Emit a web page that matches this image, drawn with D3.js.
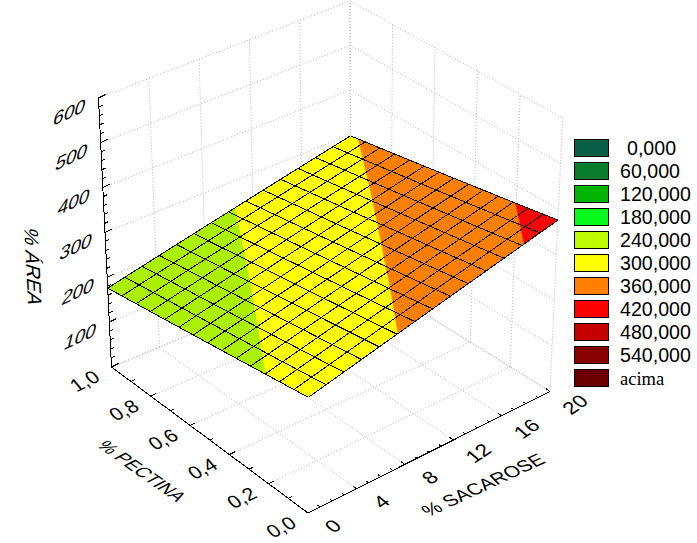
<!DOCTYPE html>
<html>
<head>
<meta charset="utf-8">
<script src="https://cdnjs.cloudflare.com/ajax/libs/d3/7.8.5/d3.min.js"></script>
<style>
  body { margin: 0; background: #fff; }
  text { font-family: "Liberation Sans", Arial, sans-serif; fill: #000; }
</style>
</head>
<body>
<svg id="chart" width="697" height="543"></svg>
<script>
const sacaroseTicks = [0, 4, 8, 12, 16, 20];
const pectinaTicks = [0, 0.2, 0.4, 0.6, 0.8, 1];
const areaTicks = [100, 200, 300, 400, 500, 600];
const sacaroseMinor = [1, 2, 3, 5, 6, 7, 9, 10, 11, 13, 14, 15, 17, 18, 19];
const pectinaMinor = [0.1, 0.3, 0.5, 0.7, 0.9];
const areaMinor = [20, 40, 60, 80, 120, 140, 160, 180, 220, 240, 260, 280, 320, 340, 360, 380, 420, 440, 460, 480, 520, 540, 560, 580];

const legendLabels = ["0,000", "60,000", "120,000", "180,000", "240,000", "300,000", "360,000", "420,000", "480,000", "540,000", "acima"];
const legendColors = ["#0a5f48", "#0a7d2c", "#04b404", "#08fb1c", "#bdfb00", "#ffff00", "#ff8000", "#ff0000", "#c40000", "#880000", "#6c0000"];
// each legend label is the top of its band. 175 not 180: the left corner reads a bit low off the axis
const bandTops = [0, 60, 120, 175, 240, 300, 360, 420, 480, 540];
const surfaceColors = ["#0a5f48", "#0a7d2c", "#04b404", "#08fb1c", "#abf000", "#ffff00", "#ff8000", "#ff0000", "#c40000", "#880000", "#6c0000"];

// % area read at each grid node, one row per pectina step (0,0 up to 1,0), sacarose 0 to 20 along the row
const surfaceRows = [
  [257.0, 265.5, 274.0, 282.5, 291.0, 299.5, 308.0, 316.5, 325.0, 333.5, 342.0, 350.5, 359.0, 367.5, 376.0],
  [251.2, 259.7, 268.2, 276.7, 285.2, 293.8, 302.3, 310.8, 319.3, 327.8, 336.3, 344.8, 353.3, 361.8, 370.3],
  [245.4, 253.9, 262.4, 271.0, 279.5, 288.0, 296.5, 305.0, 313.6, 322.1, 330.6, 339.1, 347.6, 356.2, 364.7],
  [239.6, 248.1, 256.7, 265.2, 273.7, 282.3, 290.8, 299.3, 307.8, 316.4, 324.9, 333.4, 342.0, 350.5, 359.0],
  [233.9, 242.4, 251.0, 259.5, 268.1, 276.6, 285.1, 293.7, 302.2, 310.8, 319.3, 327.9, 336.4, 344.9, 353.5],
  [228.1, 236.7, 245.2, 253.8, 262.3, 270.9, 279.4, 288.0, 296.5, 305.1, 313.6, 322.2, 330.7, 339.3, 347.8],
  [222.3, 230.9, 239.4, 248.0, 256.5, 265.1, 273.7, 282.2, 290.8, 299.3, 307.9, 316.5, 325.0, 333.6, 342.2],
  [216.5, 225.1, 233.6, 242.2, 250.8, 259.4, 267.9, 276.5, 285.1, 293.6, 302.2, 310.8, 319.4, 327.9, 336.5],
  [210.7, 219.3, 227.9, 236.4, 245.0, 253.6, 262.2, 270.8, 279.4, 287.9, 296.5, 305.1, 313.7, 322.3, 330.8],
  [204.9, 213.5, 222.1, 230.7, 239.3, 247.9, 256.5, 265.0, 273.6, 282.2, 290.8, 299.4, 308.0, 316.6, 325.2],
  [199.1, 207.7, 216.3, 224.9, 233.5, 242.1, 250.7, 259.3, 267.9, 276.5, 285.1, 293.7, 302.3, 310.9, 319.5],
  [193.4, 202.0, 210.6, 219.2, 227.8, 236.5, 245.1, 253.7, 262.3, 270.9, 279.5, 288.1, 296.7, 305.4, 314.0],
  [187.6, 196.2, 204.8, 213.5, 222.1, 230.7, 239.3, 248.0, 256.6, 265.2, 273.8, 282.4, 291.1, 299.7, 308.3],
  [181.8, 190.4, 199.1, 207.7, 216.3, 225.0, 233.6, 242.2, 250.9, 259.5, 268.1, 276.8, 285.4, 294.0, 302.7],
  [176.0, 184.6, 193.3, 201.9, 210.6, 219.2, 227.9, 236.5, 245.1, 253.8, 262.4, 271.1, 279.7, 288.4, 297.0]
];

const sacaroseNodes = d3.range(15).map(i => i * 20 / 14);
const pectinaNodes = d3.range(15).map(i => i / 14);

const svg = d3.select("#chart");

const sScale = d3.scaleLinear().domain([0, 20]).range([0, 1]);
const pScale = d3.scaleLinear().domain([0, 1]).range([0, 1]);
const zScale = d3.scaleLinear().domain([0, 600]).range([0, 1]);

// where the corners of the box land on screen, slight perspective so not a parallelepiped
const floorBox = { front: [308, 513], right: [550, 391.5], left: [111.5, 367], back: [351, 268] };
const roofBox = { front: [309, 243], right: [562.7, 118], left: [98.5, 98], back: [350, 1] };

function project(s, p, z) {
  const u = sScale(s), v = pScale(p), w = zScale(z);
  const out = [0, 1].map(k => {
    const lo = (1 - u) * (1 - v) * floorBox.front[k] + u * (1 - v) * floorBox.right[k] + (1 - u) * v * floorBox.left[k] + u * v * floorBox.back[k];
    const hi = (1 - u) * (1 - v) * roofBox.front[k] + u * (1 - v) * roofBox.right[k] + (1 - u) * v * roofBox.left[k] + u * v * roofBox.back[k];
    return lo + (hi - lo) * w;
  });
  return out;
}

const line = d3.line();
function seg(g, a, b) {
  g.append("path").attr("d", line([a, b]));
}

// dotted grid on floor and back walls
const grid = svg.append("g").attr("fill", "none").attr("stroke", "#b4b4b4").attr("stroke-dasharray", "1,2");
sacaroseTicks.forEach(s => {
  seg(grid, project(s, 0, 0), project(s, 1, 0));
  seg(grid, project(s, 1, 0), project(s, 1, 600));
});
pectinaTicks.forEach(p => {
  seg(grid, project(0, p, 0), project(20, p, 0));
  seg(grid, project(20, p, 0), project(20, p, 600));
});
[0].concat(areaTicks).forEach(z => {
  seg(grid, project(0, 1, z), project(20, 1, z));
  seg(grid, project(20, 1, z), project(20, 0, z));
});

// clip one cell to a band of z values
function clipAbove(pts, limit, sign) {
  const out = [];
  pts.forEach((a, i) => {
    const b = pts[(i + 1) % pts.length];
    const da = sign * (a[2] - limit), db = sign * (b[2] - limit);
    if (da >= 0) out.push(a);
    if ((da >= 0) !== (db >= 0)) {
      const t = da / (da - db);
      out.push([a[0] + (b[0] - a[0]) * t, a[1] + (b[1] - a[1]) * t, a[2] + (b[2] - a[2]) * t]);
    }
  });
  return out;
}

const bands = svg.append("g");
for (let j = 0; j < 14; j++) {
  for (let i = 0; i < 14; i++) {
    const cell = [[i, j], [i + 1, j], [i + 1, j + 1], [i, j + 1]]
      .map(n => [sacaroseNodes[n[0]], pectinaNodes[n[1]], surfaceRows[n[1]][n[0]]]);
    bandTops.forEach((hi, b) => {
      if (b === 0) return;
      let poly = clipAbove(cell, bandTops[b - 1], 1);
      if (poly.length) poly = clipAbove(poly, hi, -1);
      if (poly.length < 3) return;
      const col = surfaceColors[b];
      bands.append("path")
        .attr("d", line(poly.map(q => project(q[0], q[1], q[2]))) + "Z")
        .attr("fill", col).attr("stroke", col).attr("stroke-width", 0.6);
    });
  }
}

// mesh lines
const mesh = svg.append("g").attr("fill", "none").attr("stroke", "#000").attr("stroke-width", 1).attr("shape-rendering", "crispEdges");
surfaceRows.forEach((row, j) => {
  mesh.append("path").attr("d", line(row.map((z, i) => project(sacaroseNodes[i], pectinaNodes[j], z))));
});
sacaroseNodes.forEach((s, i) => {
  mesh.append("path").attr("d", line(surfaceRows.map((row, j) => project(s, pectinaNodes[j], row[i]))));
});

// axes
const axes = svg.append("g").attr("fill", "none").attr("stroke", "#000").attr("stroke-width", 1).attr("shape-rendering", "crispEdges");
seg(axes, project(0, 1, 0), project(0, 1, 600));
seg(axes, project(0, 1, 0), project(0, 0, 0));
seg(axes, project(0, 0, 0), project(20, 0, 0));

function tick(a, dir, len) {
  seg(axes, a, [a[0] + dir[0] * len, a[1] + dir[1] * len]);
}
const alongS = [0.89, -0.45], alongP = [-0.8, -0.6];
[0].concat(areaTicks).forEach(z => tick(project(0, 1, z), alongS, 8));
areaMinor.forEach(z => tick(project(0, 1, z), alongS, 4));
pectinaTicks.forEach(p => tick(project(0, p, 0), alongS, 6));
pectinaMinor.forEach(p => tick(project(0, p, 0), alongS, 4));
sacaroseTicks.forEach(s => tick(project(s, 0, 0), alongP, 5));
sacaroseMinor.forEach(s => tick(project(s, 0, 0), alongP, 3));

// labels are sheared to sit in the box planes
function skewLabel(str, pos, base, up, size) {
  svg.append("text")
    .attr("transform", `matrix(${base[0]},${base[1]},${-up[0]},${-up[1]},${pos[0]},${pos[1]})`)
    .attr("text-anchor", "middle").attr("dy", "0.35em")
    .attr("font-size", size).text(str);
}
const comma = d3.format(".1f");
areaTicks.forEach(z => {
  const a = project(0, 1, z);
  skewLabel(String(z), [a[0] - 29, a[1] + 14], [0.9, -0.42], [0.22, -0.95], 21);
});
pectinaTicks.forEach(p => {
  const a = project(0, p, 0);
  skewLabel(comma(p).replace(".", ","), [a[0] - 27, a[1] + 14], [0.85, -0.42], [-0.6, -0.72], 21);
});
sacaroseTicks.forEach(s => {
  const a = project(s, 0, 0);
  skewLabel(String(s), [a[0] + 25, a[1] + 13], [0.8, -0.55], [-0.72, -0.62], 21);
});
skewLabel("% SACAROSE", [483, 485], [0.9, -0.42], [-0.66, -0.7], 19.5);
skewLabel("% PECTINA", [142, 471], [0.77, 0.54], [0.9, -0.46], 19);
skewLabel("% ÁREA", [33, 267], [0.05, 0.95], [0.95, 0.3], 21);

// legend
const legendY = d3.scaleBand().domain(legendLabels).range([139, 139 + 23 * 11]);
const legend = svg.append("g");
legend.selectAll("rect").data(legendLabels).join("rect")
  .attr("x", 574.5).attr("y", d => legendY(d) + 0.5)
  .attr("width", 34).attr("height", 17)
  .attr("fill", (d, i) => legendColors[i]).attr("stroke", "#000");
legend.selectAll("text").data(legendLabels).join("text")
  .attr("x", d => d === "0,000" ? 627 : 620)
  .attr("y", d => legendY(d) + 16)
  .attr("font-size", d => d === "acima" ? 18.5 : 19.6)
  .style("font-family", d => d === "acima" ? '"Liberation Serif", serif' : null)
  .text(d => d);
</script>
</body>
</html>
